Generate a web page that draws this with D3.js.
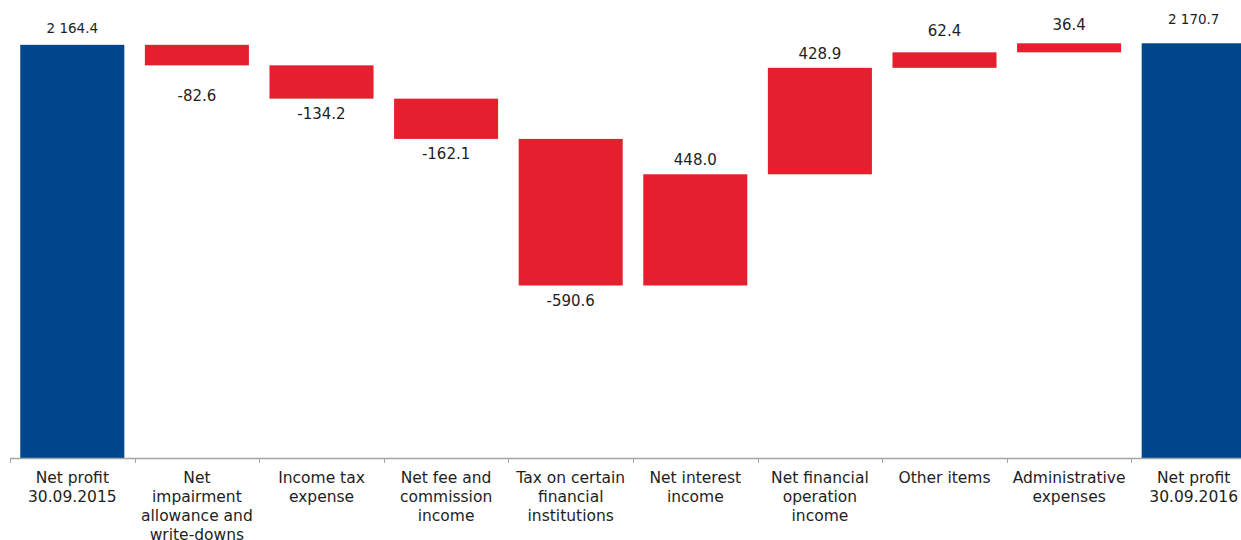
<!DOCTYPE html>
<html>
<head>
<meta charset="utf-8">
<script src="https://cdn.jsdelivr.net/npm/d3@7"></script>
<style>
    body { margin: 0; background: #fff; }
    svg { display: block; }
    text { font-family: "DejaVu Sans", "Noto Sans", sans-serif; fill: #1e1e1e; }
</style>
</head>
<body>
<svg id="chart"></svg>
<script>
const categories = [
    "Net profit 30.09.2015",
    "Net impairment allowance and write-downs",
    "Income tax expense",
    "Net fee and commission income",
    "Tax on certain financial institutions",
    "Net interest income",
    "Net financial operation income",
    "Other items",
    "Administrative expenses",
    "Net profit 30.09.2016"
];
// label lines as printed under the axis
const categoryLines = [
    ["Net profit", "30.09.2015"],
    ["Net", "impairment", "allowance and", "write-downs"],
    ["Income tax", "expense"],
    ["Net fee and", "commission", "income"],
    ["Tax on certain", "financial", "institutions"],
    ["Net interest", "income"],
    ["Net financial", "operation", "income"],
    ["Other items"],
    ["Administrative", "expenses"],
    ["Net profit", "30.09.2016"]
];
const values = [2164.4, -82.6, -134.2, -162.1, -590.6, 448.0, 428.9, 62.4, 36.4, 2170.7];
const isTotal = [true, false, false, false, false, false, false, false, false, true];
const valueLabels = ["2 164.4", "-82.6", "-134.2", "-162.1", "-590.6", "448.0", "428.9", "62.4", "36.4", "2 170.7"];

const width = 1241;
const height = 540;
const margin = { top: 36, right: -15, bottom: 82, left: 10 };
const baseline = height - margin.bottom;

// extra label spacing, matching the original's uneven placement
const labelNudge = [3, 16, 0, 0, 0, 0, 0, 7, 4, 10];

const svg = d3.select("#chart")
    .attr("width", width)
    .attr("height", height);

// waterfall steps
let running = 0;
const bars = values.map((v, i) => {
    let y0, y1;
    if (isTotal[i]) {
        y0 = 500; y1 = v; running = v;
    } else {
        y0 = running; y1 = running + v; running = y1;
    }
    return { cat: categories[i], v, lo: Math.min(y0, y1), hi: Math.max(y0, y1), total: isTotal[i], label: valueLabels[i], i };
});

const xScale = d3.scaleBand()
    .domain(categories)
    .range([margin.left, width - margin.right])
    .paddingInner(0.165)
    .paddingOuter(0.0825);

const yScale = d3.scaleLinear()
    .domain([500, 2200])
    .range([baseline, margin.top]);

svg.selectAll("rect.bar")
    .data(bars)
    .enter()
    .append("rect")
    .attr("class", "bar")
    .attr("x", d => xScale(d.cat))
    .attr("width", xScale.bandwidth())
    .attr("y", d => yScale(d.hi))
    .attr("height", d => yScale(d.lo) - yScale(d.hi))
    .style("fill", d => d.total ? "#00468b" : "#e4202e");

svg.selectAll("text.val")
    .data(bars)
    .enter()
    .append("text")
    .attr("class", "val")
    .attr("x", d => xScale(d.cat) + xScale.bandwidth() / 2)
    .attr("y", d => d.v >= 0
        ? yScale(d.hi) - 9 - labelNudge[d.i]
        : yScale(d.lo) + 20 + labelNudge[d.i])
    .attr("text-anchor", "middle")
    .style("font-size", d => d.total ? "13.5px" : "15px")
    .text(d => d.label);

// x axis with ticks between categories
const step = xScale.step();
const axis = svg.append("g").attr("id", "x-axis");
axis.append("line")
    .attr("x1", margin.left).attr("x2", width)
    .attr("y1", baseline + 0.5).attr("y2", baseline + 0.5)
    .style("stroke", "#a6a6a6").style("stroke-width", 1.5);
axis.selectAll("line.tick")
    .data(d3.range(categories.length))
    .enter()
    .append("line")
    .attr("class", "tick")
    .attr("x1", i => Math.round(xScale(categories[i]) - step * 0.0825) + 0.5)
    .attr("x2", i => Math.round(xScale(categories[i]) - step * 0.0825) + 0.5)
    .attr("y1", baseline)
    .attr("y2", baseline + 5)
    .style("stroke", "#a6a6a6").style("stroke-width", 1);

const labels = axis.selectAll("text.cat")
    .data(categories)
    .enter()
    .append("text")
    .attr("class", "cat")
    .attr("x", d => xScale(d) + xScale.bandwidth() / 2)
    .attr("y", baseline + 25)
    .attr("text-anchor", "middle")
    .style("font-size", "15.5px");

labels.each(function (d, i) {
    d3.select(this).selectAll("tspan")
        .data(categoryLines[i])
        .enter()
        .append("tspan")
        .attr("x", xScale(d) + xScale.bandwidth() / 2)
        .attr("dy", (t, j) => j === 0 ? 0 : 19)
        .text(t => t);
});
</script>
</body>
</html>
